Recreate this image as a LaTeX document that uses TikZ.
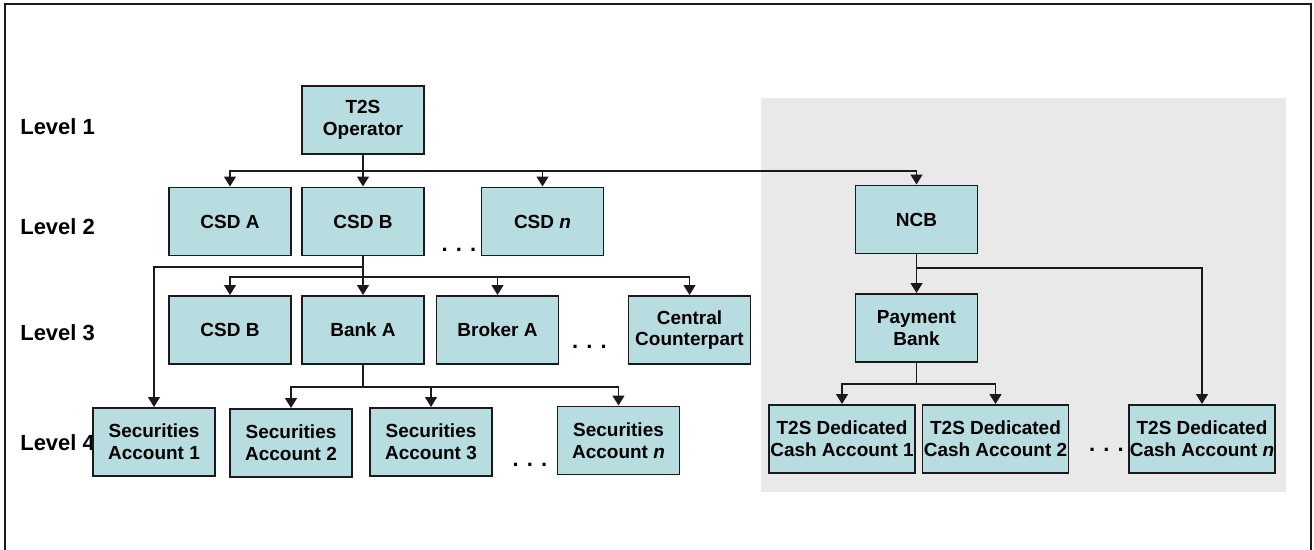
\documentclass[tikz,border=0pt]{standalone}
\usepackage{fontspec}
\setmainfont{Liberation Sans}
\usepackage{tikz}
\usetikzlibrary{arrows.meta}
\definecolor{T2SFill}{HTML}{B8DDE1}
\definecolor{T2SShade}{HTML}{E9E9E9}
\definecolor{T2SLine}{HTML}{1A1A1A}

\begin{document}
\begin{tikzpicture}[x=0.02cm,y=-0.02cm,
  t2sbox/.style={draw=T2SLine,fill=T2SFill,line width=1.1pt,inner sep=0pt,
    minimum width=2.44cm,minimum height=1.36cm,align=center,
    font=\fontsize{10.8}{12.4}\selectfont\bfseries},
  widebox/.style={t2sbox,minimum width=2.92cm},
  lvl/.style={anchor=west,inner sep=0pt,font=\fontsize{12.5}{14}\selectfont\bfseries},
  gapdots/.style={inner sep=0pt,font=\fontsize{12.5}{14}\selectfont\bfseries},
  link/.style={draw=T2SLine,line width=1.1pt},
  arr/.style={link,-{Triangle[length=5.6pt,width=6.6pt]}}]
  \useasboundingbox (0,0) rectangle (1314,550);
  \fill[T2SShade] (761,98) rectangle (1286,492);
  \draw[T2SLine,line width=1.1pt] (5,552) -- (5,4) -- (1311,4) -- (1311,552);
  \node[lvl] (lev1) at (20,127) {Level 1};
  \node[lvl] (lev2) at (20,227) {Level 2};
  \node[lvl] (lev3) at (20,333) {Level 3};
  \node[lvl] (lev4) at (20,443) {Level 4};
  \node[t2sbox] (op) at (363,120) {T2S\\Operator};
  \node[t2sbox] (csda) at (230,221.5) {CSD A};
  \node[t2sbox] (csdb) at (363,221.5) {CSD B};
  \node[t2sbox] (csdn) at (542.5,221.5) {CSD \textit{n}};
  \node[t2sbox] (ncb) at (916.5,219.5) {NCB};
  \node[t2sbox] (csdb3) at (230,330) {CSD B};
  \node[t2sbox] (banka) at (363,330) {Bank A};
  \node[t2sbox] (brokera) at (497.5,330) {Broker A};
  \node[t2sbox] (ccp) at (689.5,330) {Central\\Counterpart};
  \node[t2sbox] (payb) at (916.5,328) {Payment\\Bank};
  \node[t2sbox] (sa1) at (154,442) {Securities\\Account 1};
  \node[t2sbox] (sa2) at (291,443) {Securities\\Account 2};
  \node[t2sbox] (sa3) at (431,442) {Securities\\Account 3};
  \node[t2sbox] (san) at (618.5,440.5) {Securities\\Account \textit{n}};
  \node[widebox] (dca1) at (842,439) {T2S Dedicated\\Cash Account 1};
  \node[widebox] (dca2) at (995.5,439) {T2S Dedicated\\Cash Account 2};
  \node[widebox] (dcan) at (1202,439) {T2S Dedicated\\Cash Account \textit{n}};
  \node[gapdots] (dots2) at (459,250) {. . .};
  \node[gapdots] (dots3) at (589.5,347) {. . .};
  \node[gapdots] (dots4) at (530,465) {. . .};
  \node[gapdots] (dotsc) at (1106.5,450) {. . .};
  \coordinate (opbar) at (363,171);
  \draw[link] (op.south) -- (opbar);
  \draw[arr] (opbar) -| (csda.north);
  \draw[arr] (opbar) -- (csdb.north);
  \draw[arr] (opbar) -| (csdn.north);
  \draw[arr] (opbar) -| (ncb.north);
  \coordinate (csdbleft) at (363,267);
  \coordinate (csdbbar) at (363,277);
  \draw[link] (csdb.south) -- (csdbbar);
  \draw[arr] (csdbleft) -| (sa1.north);
  \draw[arr] (csdbbar) -| (csdb3.north);
  \draw[arr] (csdbbar) -- (banka.north);
  \draw[arr] (csdbbar) -| (brokera.north);
  \draw[arr] (csdbbar) -| (ccp.north);
  \coordinate (bankbar) at (363,387);
  \draw[link] (banka.south) -- (bankbar);
  \draw[arr] (bankbar) -| (sa2.north);
  \draw[arr] (bankbar) -| (sa3.north);
  \draw[arr] (bankbar) -| (san.north);
  \coordinate (ncbbar) at (916.5,268);
  \draw[arr] (ncb.south) -- (payb.north);
  \draw[arr] (ncbbar) -| (dcan.north);
  \coordinate (paybar) at (916.5,384);
  \draw[link] (payb.south) -- (paybar);
  \draw[arr] (paybar) -| (dca1.north);
  \draw[arr] (paybar) -| (dca2.north);
\end{tikzpicture}
\end{document}
